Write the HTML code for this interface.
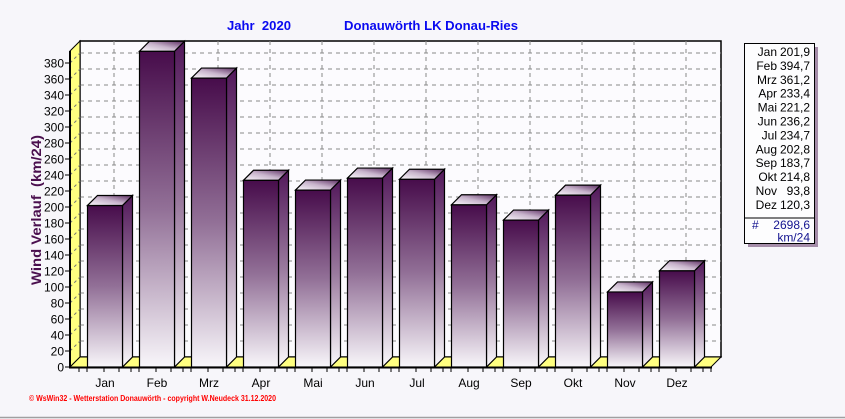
<!DOCTYPE html>
<html>
<head>
<meta charset="utf-8">
<style>
  html,body{margin:0;padding:0;background:#f7f6fa;}
  svg{display:block;}
  text{font-family:"Liberation Sans",sans-serif;}
</style>
</head>
<body>
<svg width="845" height="419" viewBox="0 0 845 419" xmlns="http://www.w3.org/2000/svg">
  <defs>
    <linearGradient id="gf" x1="0" y1="0" x2="0" y2="1">
      <stop offset="0" stop-color="#470c4b"/>
      <stop offset="0.5" stop-color="#927097"/>
      <stop offset="1" stop-color="#f8f6fa"/>
    </linearGradient>
    <linearGradient id="gs" x1="0" y1="0" x2="0" y2="1">
      <stop offset="0" stop-color="#52185a"/>
      <stop offset="0.5" stop-color="#9a7a9e"/>
      <stop offset="1" stop-color="#fbfafc"/>
    </linearGradient>
    <linearGradient id="gt" x1="0" y1="1" x2="1" y2="0">
      <stop offset="0" stop-color="#fbf8fc"/>
      <stop offset="0.5" stop-color="#c8b4cc"/>
      <stop offset="1" stop-color="#5a2a60"/>
    </linearGradient>
  </defs>

  <rect x="0" y="0" width="845" height="419" fill="#f7f6fa"/>
  <line x1="0" y1="417.5" x2="845" y2="417.5" stroke="#a0a0a0" stroke-width="1.5"/>

  <!-- titles -->
  <text x="227" y="30" font-size="13" font-weight="bold" fill="#0a0af0" textLength="64" lengthAdjust="spacingAndGlyphs" xml:space="preserve">Jahr  2020</text>
  <text x="344" y="30" font-size="13" font-weight="bold" fill="#0a0af0" textLength="174" lengthAdjust="spacingAndGlyphs">Donauwörth LK Donau-Ries</text>

  <!-- back wall -->
  <rect x="80" y="41" width="641" height="316" fill="#fcfbfe" stroke="#000" stroke-width="1.5"/>

  <g stroke="#888" stroke-width="1" stroke-dasharray="4,4" fill="none" id="grid"></g>

  <!-- yellow side wall -->
  <polygon points="70,51 80,41 80,357 70,367" fill="#ffff80" stroke="#000" stroke-width="1"/>
  <!-- floor -->
  <polygon points="70,367 80,357 721,357 711,367" fill="#ffff80" stroke="#000" stroke-width="1"/>

  <g id="walldash" stroke="#777" stroke-width="1" stroke-dasharray="3,3"></g>

  <g id="bars"></g>

  <!-- axes -->
  <line x1="70" y1="51" x2="70" y2="368" stroke="#000" stroke-width="2"/>
  <line x1="69" y1="367.5" x2="712" y2="367.5" stroke="#000" stroke-width="2"/>
  <g id="yt" stroke="#000" stroke-width="1"></g>
  <g id="yl" font-size="12" fill="#000" text-anchor="end"></g>
  <g id="xt" stroke="#000" stroke-width="1"></g>
  <g id="xl" font-size="12" fill="#000" text-anchor="middle"></g>

  <!-- y axis title -->
  <text transform="translate(41,210) rotate(-90)" text-anchor="middle" font-size="14" font-weight="bold" fill="#4a0f4e" textLength="150" lengthAdjust="spacingAndGlyphs" xml:space="preserve">Wind Verlauf  (km/24)</text>

  <!-- legend -->
  <rect x="748" y="47" width="70" height="200" fill="#8a6a8e" opacity="0.75"/>
  <rect x="744.5" y="43.5" width="70" height="200" fill="#fdfdfe" stroke="#000" stroke-width="1"/>
  <line x1="744.5" y1="218" x2="814.5" y2="218" stroke="#000" stroke-width="1"/>
  <g id="leg" font-size="12" fill="#000" text-anchor="end"></g>
  <text x="752" y="229" font-size="12" fill="#141490">#</text>
  <text x="810" y="229" font-size="12" fill="#141490" text-anchor="end">2698,6</text>
  <text x="810" y="241.5" font-size="12" fill="#141490" text-anchor="end">km/24</text>

  <!-- footer -->
  <text x="29" y="401" font-size="8" font-weight="bold" fill="#ff0000" textLength="247" lengthAdjust="spacingAndGlyphs">© WsWin32  -  Wetterstation Donauwörth  -  copyright W.Neudeck  31.12.2020</text>

  <script>
  (function(){
    var NS="http://www.w3.org/2000/svg";
    function el(tag,attrs,parent,txt){var e=document.createElementNS(NS,tag);for(var a in attrs)e.setAttribute(a,attrs[a]);if(txt!==undefined)e.textContent=txt;parent.appendChild(e);return e;}
    var grid=document.getElementById('grid'),wd=document.getElementById('walldash'),yt=document.getElementById('yt'),yl=document.getElementById('yl'),xt=document.getElementById('xt'),xl=document.getElementById('xl'),bars=document.getElementById('bars'),leg=document.getElementById('leg');
    for(var v=0;v<=380;v+=20){
      var yy=367-0.8*v;
      if(v>0){
        el('line',{x1:80,y1:yy-10,x2:721,y2:yy-10},grid);
        el('line',{x1:70,y1:yy,x2:80,y2:yy-10},wd);
      }
      el('line',{x1:65,y1:yy,x2:70,y2:yy},yt);
      el('text',{x:64,y:yy+4.5},yl,String(v));
    }
    for(var k=0;k<12;k++){
      var gx=114+52*k;
      el('line',{x1:gx,y1:41,x2:gx,y2:357},grid);
    }
    var names=['Jan','Feb','Mrz','Apr','Mai','Jun','Jul','Aug','Sep','Okt','Nov','Dez'];
    var vals=[201.9,394.7,361.2,233.4,221.2,236.2,234.7,202.8,183.7,214.8,93.8,120.3];
    var lv=['201,9','394,7','361,2','233,4','221,2','236,2','234,7','202,8','183,7','214,8','93,8','120,3'];
    el('line',{x1:79,y1:367,x2:79,y2:372},xt);
    el('line',{x1:87,y1:367,x2:87,y2:372},xt);
    for(var i=0;i<12;i++){
      var cx=104+52*i;
      [0,15,27,35].forEach(function(o){ if(cx+o<=711) el('line',{x1:cx+o,y1:367,x2:cx+o,y2:372},xt);});
      el('text',{x:cx+1,y:387},xl,names[i]);
      var bx0=87.5+52*i,bx1=bx0+35,ty=367-0.8*vals[i];
      el('polygon',{points:bx1+','+ty+' '+(bx1+10)+','+(ty-10)+' '+(bx1+10)+',357 '+bx1+',367',fill:'url(#gs)',stroke:'#000','stroke-width':1.2},bars);
      el('rect',{x:bx0,y:ty,width:35,height:367-ty,fill:'url(#gf)',stroke:'#000','stroke-width':1.2},bars);
      el('polygon',{points:bx0+','+ty+' '+(bx0+10)+','+(ty-10)+' '+(bx1+10)+','+(ty-10)+' '+bx1+','+ty,fill:'url(#gt)',stroke:'#000','stroke-width':1.2},bars);
      var by=56+13.9*i;
      el('text',{x:777,y:by},leg,names[i]);
      el('text',{x:810,y:by},leg,lv[i]);
    }
  })();
  </script>
</svg>
</body>
</html>
